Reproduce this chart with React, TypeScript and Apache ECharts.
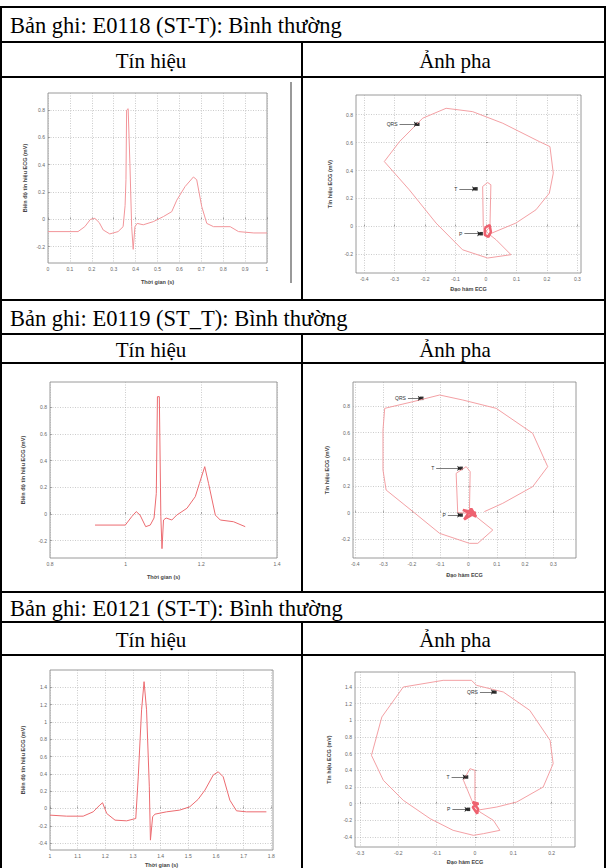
import React, { useEffect, useRef } from 'react';
import * as echarts from 'echarts';

// ---------- Record titles ----------
const records = ['Bản ghi: E0118 (ST-T): Bình thường', 'Bản ghi: E0119 (ST_T): Bình thường', 'Bản ghi: E0121 (ST-T): Bình thường'];
const headers = ['Tín hiệu', 'Ảnh pha'];

// ---------- Signal E0118 ----------
const sig1T = [0, 0.137, 0.168, 0.194, 0.214, 0.234, 0.252, 0.282, 0.32, 0.343, 0.352, 0.356, 0.359, 0.366, 0.374, 0.382, 0.389, 0.397, 0.407, 0.435, 0.481, 0.527, 0.565, 0.588, 0.626, 0.664, 0.679, 0.702, 0.725, 0.756, 0.832, 0.87, 0.94, 1.0];
const sig1V = [-0.09, -0.09, -0.054, 0, 0.007, -0.024, -0.078, -0.107, -0.09, -0.054, 0.1, 0.29, 0.8, 0.81, 0.41, -0.054, -0.22, -0.054, -0.03, -0.04, -0.017, 0.02, 0.056, 0.14, 0.24, 0.31, 0.29, 0.093, -0.03, -0.054, -0.054, -0.09, -0.1, -0.1];
const sig1XTicks = [0, 0.1, 0.2, 0.3, 0.4, 0.5, 0.6, 0.7, 0.8, 0.9, 1];
const sig1YTicks = [-0.2, 0, 0.2, 0.4, 0.6, 0.8];

// ---------- Signal E0119 ----------
const sig2T = [0.919, 0.999, 1.016, 1.028, 1.038, 1.053, 1.065, 1.075, 1.081, 1.084, 1.089, 1.093, 1.096, 1.1, 1.107, 1.122, 1.135, 1.162, 1.184, 1.195, 1.209, 1.219, 1.237, 1.25, 1.285, 1.316];
const sig2V = [-0.083, -0.083, -0.02, 0.018, -0.008, -0.095, -0.083, -0.03, 0.155, 0.88, 0.88, -0.02, -0.26, -0.045, -0.03, -0.045, -0.008, 0.043, 0.13, 0.23, 0.355, 0.23, -0.008, -0.045, -0.058, -0.095];
const sig2XTicks = [0.8, 1, 1.2, 1.4];
const sig2YTicks = [-0.2, 0, 0.2, 0.4, 0.6, 0.8];

// ---------- Signal E0121 ----------
const sig3T = [1.0, 1.06, 1.12, 1.156, 1.18, 1.19, 1.205, 1.235, 1.277, 1.31, 1.319, 1.331, 1.34, 1.349, 1.359, 1.363, 1.371, 1.379, 1.421, 1.469, 1.505, 1.535, 1.56, 1.59, 1.608, 1.626, 1.65, 1.674, 1.71, 1.782];
const sig3V = [-0.077, -0.089, -0.089, -0.039, 0.039, 0.066, -0.058, -0.135, -0.143, -0.116, 0.366, 1.14, 1.465, 1.14, 0.25, -0.366, -0.096, -0.066, -0.039, -0.019, 0.019, 0.104, 0.212, 0.386, 0.424, 0.366, 0.096, -0.027, -0.039, -0.039];
const sig3XTicks = [1, 1.1, 1.2, 1.3, 1.4, 1.5, 1.6, 1.7, 1.8];
const sig3YTicks = [-0.4, -0.2, 0, 0.2, 0.4, 0.6, 0.8, 1, 1.2, 1.4];

// ---------- Phase E0118 (x = derivative, y = signal) ----------
const ph1D = [0.0055, 0.098, 0.164, 0.208, 0.221, 0.210, 0.175, 0.055, -0.044, -0.131, -0.208, -0.284, -0.334, -0.252, -0.164, -0.077, 0.0055, 0.082, 0.033, 0.0055, -0.009, -0.011, 0.0055, 0.016, 0.013, 0];
const ph1S = [-0.060, 0.024, 0.119, 0.238, 0.381, 0.571, 0.607, 0.738, 0.821, 0.845, 0.774, 0.607, 0.464, 0.262, 0.024, -0.167, -0.226, -0.202, -0.095, -0.048, 0, 0.286, 0.314, 0.298, 0, -0.036];
const blob1D = [-0.004, 0.012, 0.016, 0.008, -0.004, -0.004];
const blob1S = [-0.01, 0.01, -0.04, -0.075, -0.06, -0.01];
const ph1XTicks = [-0.4, -0.3, -0.2, -0.1, 0, 0.1, 0.2, 0.3];
const ph1YTicks = [-0.2, 0, 0.2, 0.4, 0.6, 0.8];
const ann1Names = ['QRS', 'T', 'P'];
const ann1FromD = [-0.284, -0.0875, -0.071];
const ann1ToD = [-0.224, -0.033, -0.016];
const ann1S = [0.731, 0.269, -0.052];

// ---------- Phase E0119 ----------
const ph2D = [0.056, 0.121, 0.227, 0.28, 0.227, 0.098, -0.02, -0.102, -0.196, -0.296, -0.302, -0.302, -0.291, -0.196, -0.102, 0.0035, 0.033, 0.086, 0.027, 0.0035, -0.038, -0.0435, -0.008, 0.006, 0.0035];
const ph2S = [0.0075, 0.07, 0.195, 0.345, 0.595, 0.7825, 0.845, 0.8825, 0.8325, 0.7825, 0.62, 0.32, 0.17, 0.0075, -0.155, -0.23, -0.23, -0.13, -0.03, -0.005, 0, 0.295, 0.345, 0.3075, 0.0075];
const blob2D = [-0.02, 0.027, 0.01, -0.015, 0.025, -0.02];
const blob2S = [0.02, -0.03, 0.03, -0.05, 0.0, 0.02];
const ph2XTicks = [-0.4, -0.3, -0.2, -0.1, 0, 0.1, 0.2, 0.3];
const ph2YTicks = [-0.2, 0, 0.2, 0.4, 0.6, 0.8];
const ann2Names = ['QRS', 'T', 'P'];
const ann2FromD = [-0.214, -0.114, -0.073];
const ann2ToD = [-0.165, -0.026, -0.026];
const ann2S = [0.8575, 0.3325, -0.0175];

// ---------- Phase E0121 ----------
const ph3D = [0.004, 0.057, 0.109, 0.178, 0.204, 0.196, 0.143, 0.074, 0.004, -0.009, -0.083, -0.187, -0.243, -0.27, -0.239, -0.187, -0.117, -0.057, -0.004, 0.022, 0.065, 0.048, 0.013, 0, -0.004, -0.03, -0.013, 0, 0];
const ph3S = [-0.08, -0.04, 0.02, 0.2, 0.48, 0.76, 1.12, 1.34, 1.42, 1.48, 1.48, 1.4, 1.04, 0.58, 0.28, 0.04, -0.18, -0.32, -0.38, -0.36, -0.32, -0.2, -0.1, -0.02, -0.008, 0.28, 0.42, 0.4, 0.04];
const blob3D = [-0.006, 0.008, 0.006, -0.006, 0.009, -0.006];
const blob3S = [0.02, -0.06, -0.12, -0.04, 0.0, 0.02];
const ph3XTicks = [-0.3, -0.2, -0.1, 0, 0.1, 0.2];
const ph3YTicks = [-0.4, -0.2, 0, 0.2, 0.4, 0.6, 0.8, 1, 1.2, 1.4];
const ann3Names = ['QRS', 'T', 'P'];
const ann3FromD = [0.013, -0.061, -0.059];
const ann3ToD = [0.052, -0.022, -0.017];
const ann3S = [1.34, 0.32, -0.068];

const zip = (a: number[], b: number[]) => a.map((v, i) => [v, b[i]]);

const SANS = 'Liberation Sans';
const SERIF = 'Liberation Serif';
const CURVE = '#f2959a';
const SPIKE = '#ec6b70';

type PlotDef = {
  grid: { left: number; top: number; width: number; height: number };
  xr: [number, number];
  yr: [number, number];
  xt: number[];
  yt: number[];
  xName: string;
  yName: string;
  xGap: number;
  yGap: number;
};

const plots: PlotDef[] = [
  { grid: { left: 48, top: 93, width: 219, height: 170 }, xr: [0, 1], yr: [-0.32, 0.925], xt: sig1XTicks, yt: sig1YTicks, xName: 'Thời gian (s)', yName: 'Biên độ tín hiệu ECG (mV)', xGap: 16, yGap: 20 },
  { grid: { left: 356, top: 95, width: 225, height: 178 }, xr: [-0.427, 0.312], yr: [-0.333, 0.94], xt: ph1XTicks, yt: ph1YTicks, xName: 'Đạo hàm ECG', yName: 'Tín hiệu ECG (mV)', xGap: 13, yGap: 23 },
  { grid: { left: 50, top: 382, width: 227, height: 176 }, xr: [0.8, 1.4], yr: [-0.33, 0.99], xt: sig2XTicks, yt: sig2YTicks, xName: 'Thời gian (s)', yName: 'Biên độ tín hiệu ECG (mV)', xGap: 16, yGap: 24 },
  { grid: { left: 353, top: 382, width: 223, height: 176 }, xr: [-0.408, 0.38], yr: [-0.34, 0.98], xt: ph2XTicks, yt: ph2YTicks, xName: 'Đạo hàm ECG', yName: 'Tín hiệu ECG (mV)', xGap: 14, yGap: 23 },
  { grid: { left: 50, top: 670, width: 223, height: 180 }, xr: [1, 1.806], yr: [-0.48, 1.6], xt: sig3XTicks, yt: sig3YTicks, xName: 'Thời gian (s)', yName: 'Biên độ tín hiệu ECG (mV)', xGap: 12, yGap: 24 },
  { grid: { left: 355, top: 672, width: 220, height: 175 }, xr: [-0.313, 0.261], yr: [-0.52, 1.58], xt: ph3XTicks, yt: ph3YTicks, xName: 'Đạo hàm ECG', yName: 'Tín hiệu ECG (mV)', xGap: 12, yGap: 23 },
];

function axisCommon(ticks: number[]) {
  return {
    axisLine: { show: false },
    axisTick: { show: true, inside: true, length: 2, customValues: ticks, lineStyle: { color: '#777', width: 0.6 } },
    axisLabel: { customValues: ticks, fontSize: 5, color: '#666', margin: 3, fontFamily: SANS },
    splitLine: { show: true, lineStyle: { color: '#aaa', type: [1, 1.5], width: 0.6 } },
  };
}

function annSeries(gi: number, names: string[], fromD: number[], toD: number[], s: number[]) {
  return [
    {
      type: 'line',
      xAxisIndex: gi,
      yAxisIndex: gi,
      data: [],
      markLine: {
        silent: true,
        animation: false,
        symbol: ['none', 'arrow'],
        symbolSize: 4,
        lineStyle: { color: '#222', width: 0.6, type: 'solid' },
        label: { show: true, position: 'start', formatter: '{b}', fontSize: 5, color: '#333', fontFamily: SANS, distance: 2 },
        data: names.map((n, i) => [
          { coord: [fromD[i], s[i]], name: n },
          { coord: [toD[i], s[i]] },
        ]),
      },
    },
    {
      type: 'scatter',
      xAxisIndex: gi,
      yAxisIndex: gi,
      symbol: 'rect',
      symbolSize: 3.5,
      itemStyle: { color: '#000' },
      data: zip(toD, s),
    },
  ];
}

function buildOption() {
  const grid = plots.map((p) => ({ ...p.grid, show: true, borderColor: '#808080', borderWidth: 0.8, backgroundColor: 'rgba(0,0,0,0)', containLabel: false, outerBoundsMode: 'none' }));
  const xAxis = plots.map((p, i) => ({
    gridIndex: i,
    type: 'value',
    min: p.xr[0],
    max: p.xr[1],
    name: p.xName,
    nameLocation: 'middle',
    nameGap: p.xGap,
    nameTextStyle: { fontSize: 5.5, color: '#444', fontWeight: 'bold', fontFamily: SANS },
    ...axisCommon(p.xt),
  }));
  const yAxis = plots.map((p, i) => ({
    gridIndex: i,
    type: 'value',
    min: p.yr[0],
    max: p.yr[1],
    name: p.yName,
    nameLocation: 'middle',
    nameRotate: 90,
    nameGap: p.yGap,
    nameTextStyle: { fontSize: 5.5, color: '#444', fontWeight: 'bold', fontFamily: SANS },
    ...axisCommon(p.yt),
  }));

  const lineS = (gi: number, data: number[][], color: string, width: number) => ({
    type: 'line',
    xAxisIndex: gi,
    yAxisIndex: gi,
    data,
    showSymbol: false,
    symbol: 'none',
    lineStyle: { color, width },
    z: 3,
  });

  const series: any[] = [
    lineS(0, zip(sig1T, sig1V), CURVE, 1),
    lineS(1, zip(ph1D, ph1S), CURVE, 0.9),
    lineS(1, zip(blob1D, blob1S), '#ee6270', 2.5),
    ...annSeries(1, ann1Names, ann1FromD, ann1ToD, ann1S),
    lineS(2, zip(sig2T, sig2V), SPIKE, 1),
    lineS(3, zip(ph2D, ph2S), CURVE, 0.9),
    lineS(3, zip(blob2D, blob2S), '#ee6270', 2.5),
    ...annSeries(3, ann2Names, ann2FromD, ann2ToD, ann2S),
    lineS(4, zip(sig3T, sig3V), SPIKE, 1),
    lineS(5, zip(ph3D, ph3S), CURVE, 0.9),
    lineS(5, zip(blob3D, blob3S), '#ee6270', 2.5),
    ...annSeries(5, ann3Names, ann3FromD, ann3ToD, ann3S),
  ];

  // table layout
  const rows = [
    { top: 7, mid: 42, head: 77, end: 300 },
    { top: 300, mid: 334, head: 363, end: 592 },
    { top: 592, mid: 622, head: 655, end: 868 },
  ];
  const graphic: any[] = [];
  const L = (x1: number, y1: number, x2: number, y2: number, w = 2, c = '#000') =>
    graphic.push({ type: 'line', shape: { x1, y1, x2, y2 }, style: { stroke: c, lineWidth: w }, z: 10 });
  rows.forEach((r, i) => {
    L(0, r.top, 606, r.top);
    L(0, r.mid, 606, r.mid);
    L(0, r.head, 606, r.head);
    L(302, r.mid, 302, r.end);
    graphic.push({ type: 'text', x: 10, y: (r.top + r.mid) / 2 + 1, style: { text: records[i], fontSize: 22.5, fontFamily: SERIF, fill: '#000', align: 'left', verticalAlign: 'middle' }, z: 10 });
    graphic.push({ type: 'text', x: 151, y: (r.mid + r.head) / 2 + 1, style: { text: headers[0], fontSize: 21, fontFamily: SERIF, fill: '#000', align: 'center', verticalAlign: 'middle' }, z: 10 });
    graphic.push({ type: 'text', x: 455, y: (r.mid + r.head) / 2 + 1, style: { text: headers[1], fontSize: 21, fontFamily: SERIF, fill: '#000', align: 'center', verticalAlign: 'middle' }, z: 10 });
  });
  L(1, 7, 1, 868);
  L(605, 7, 605, 868);
  L(291, 82, 291, 283, 2, '#999');

  return {
    animation: false,
    backgroundColor: '#fff',
    grid,
    xAxis,
    yAxis,
    series,
    graphic,
  };
}

export default function App() {
  const ref = useRef<HTMLDivElement>(null);
  useEffect(() => {
    if (!ref.current) return;
    const chart = echarts.init(ref.current, null, { renderer: 'svg' });
    chart.setOption(buildOption() as any);
    return () => chart.dispose();
  }, []);
  return <div ref={ref} style={{ position: 'absolute', left: 0, top: 0, width: 606, height: 868, background: '#fff' }} />;
}
